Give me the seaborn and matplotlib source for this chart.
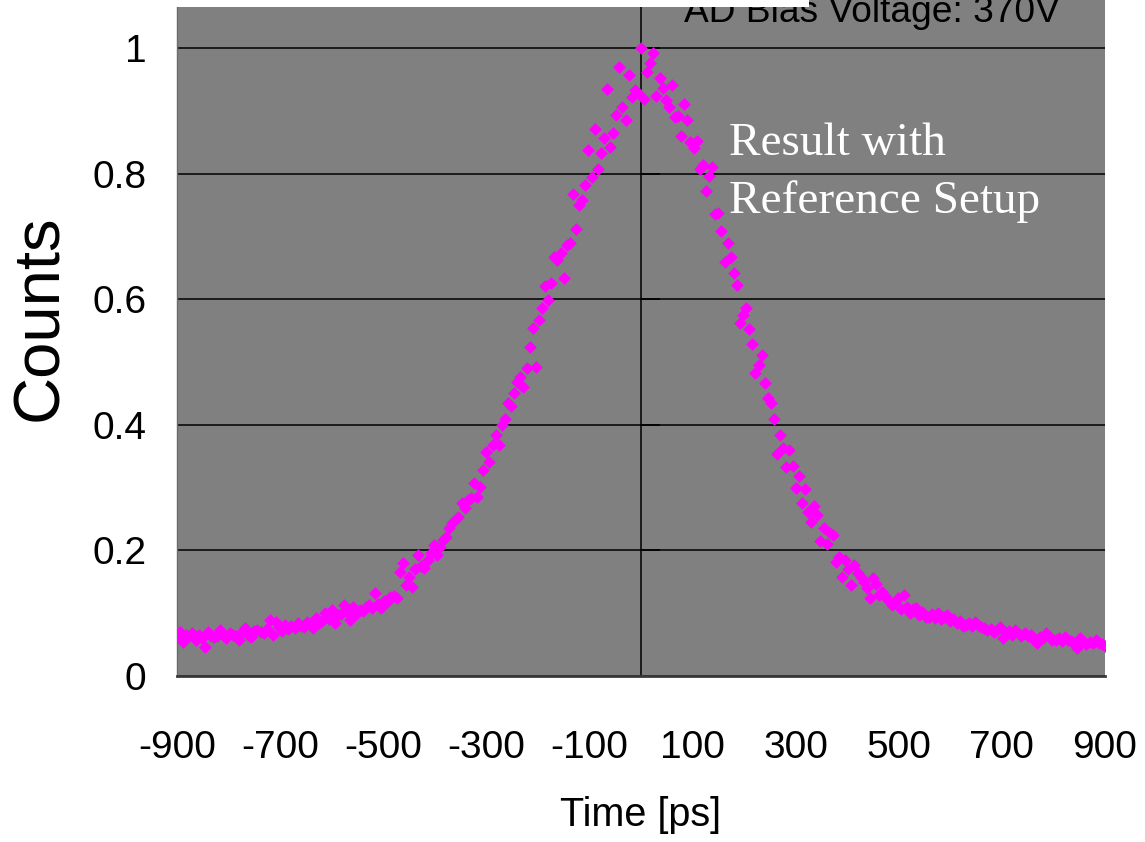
import matplotlib
matplotlib.use("Agg")
import matplotlib.pyplot as plt
from matplotlib.patches import Rectangle
import seaborn as sns
import pandas as pd

sns.set_style("white")
plt.rcParams['font.family'] = ['Liberation Sans', 'DejaVu Sans']
plt.rcParams['text.color'] = 'black'
plt.rcParams['axes.labelcolor'] = 'black'
plt.rcParams['xtick.color'] = 'black'
plt.rcParams['ytick.color'] = 'black'

# ---- data: time bins (ps) and normalised counts ----
time_ps = list(range(-900, 901, 6))
counts = [
    0.060, 0.070, 0.054, 0.065, 0.063, 0.068, 0.058, 0.066, 0.061, 0.046,
    0.070, 0.064, 0.062, 0.064, 0.073, 0.066, 0.060, 0.069, 0.065, 0.063,
    0.057, 0.070, 0.076, 0.066, 0.062, 0.071, 0.074, 0.070, 0.068, 0.075,
    0.089, 0.065, 0.086, 0.078, 0.072, 0.081, 0.075, 0.079, 0.076, 0.084,
    0.080, 0.078, 0.086, 0.082, 0.076, 0.092, 0.085, 0.088, 0.100, 0.091,
    0.105, 0.084, 0.097, 0.099, 0.113, 0.102, 0.089, 0.110, 0.098, 0.105,
    0.104, 0.110, 0.113, 0.108, 0.132, 0.115, 0.108, 0.120, 0.118, 0.126,
    0.128, 0.124, 0.166, 0.180, 0.145, 0.158, 0.142, 0.170, 0.193, 0.175,
    0.172, 0.185, 0.196, 0.209, 0.193, 0.205, 0.217, 0.222, 0.235, 0.244,
    0.248, 0.253, 0.275, 0.268, 0.280, 0.283, 0.307, 0.285, 0.301, 0.328,
    0.357, 0.341, 0.368, 0.384, 0.368, 0.400, 0.410, 0.435, 0.430, 0.450,
    0.468, 0.476, 0.460, 0.490, 0.524, 0.554, 0.492, 0.567, 0.586, 0.621,
    0.599, 0.626, 0.667, 0.662, 0.673, 0.634, 0.686, 0.690, 0.768, 0.712,
    0.750, 0.758, 0.782, 0.838, 0.795, 0.871, 0.807, 0.833, 0.857, 0.935,
    0.842, 0.865, 0.893, 0.970, 0.906, 0.885, 0.957, 0.922, 0.933, 0.928,
    1.000, 0.919, 0.962, 0.976, 0.992, 0.924, 0.952, 0.936, 0.917, 0.906,
    0.941, 0.890, 0.892, 0.860, 0.911, 0.885, 0.850, 0.841, 0.852, 0.807,
    0.814, 0.772, 0.796, 0.810, 0.736, 0.737, 0.709, 0.660, 0.690, 0.667,
    0.642, 0.623, 0.562, 0.575, 0.586, 0.553, 0.529, 0.482, 0.495, 0.511,
    0.467, 0.443, 0.435, 0.409, 0.354, 0.384, 0.363, 0.333, 0.360, 0.334,
    0.299, 0.318, 0.275, 0.298, 0.261, 0.245, 0.271, 0.256, 0.215, 0.236,
    0.210, 0.228, 0.224, 0.182, 0.190, 0.158, 0.185, 0.170, 0.145, 0.177,
    0.164, 0.158, 0.150, 0.140, 0.124, 0.156, 0.146, 0.129, 0.134, 0.128,
    0.121, 0.113, 0.118, 0.124, 0.107, 0.129, 0.110, 0.100, 0.107, 0.108,
    0.097, 0.102, 0.094, 0.094, 0.098, 0.092, 0.100, 0.090, 0.094, 0.097,
    0.088, 0.091, 0.084, 0.087, 0.080, 0.081, 0.085, 0.079, 0.086, 0.082,
    0.078, 0.076, 0.073, 0.075, 0.070, 0.074, 0.078, 0.060, 0.068, 0.071,
    0.066, 0.073, 0.069, 0.064, 0.068, 0.063, 0.066, 0.058, 0.053, 0.062,
    0.060, 0.068, 0.063, 0.057, 0.058, 0.061, 0.055, 0.062, 0.058, 0.056,
    0.052, 0.045, 0.060, 0.056, 0.051, 0.054, 0.052, 0.057, 0.053, 0.051,
    0.048,
]
x_ticks = [-900, -700, -500, -300, -100, 100, 300, 500, 700, 900]
y_ticks = [0, 0.2, 0.4, 0.6, 0.8, 1.0]
y_tick_labels = ['0', '0.2', '0.4', '0.6', '0.8', '1']

df = pd.DataFrame({'Time [ps]': time_ps, 'Counts': counts})

W, H = 1145, 842
fig = plt.figure(figsize=(W / 100, H / 100), dpi=100)
ax_l, ax_r, ax_b, ax_t = 177, 1105, 676, 0
ax = fig.add_axes([ax_l / W, 1 - ax_b / H, (ax_r - ax_l) / W, (ax_b - ax_t) / H])
ax.set_facecolor('#808080')

sns.scatterplot(data=df, x='Time [ps]', y='Counts', marker='D', color='#FF00FF',
                s=42, linewidth=0, ax=ax, zorder=3)

ax.set_xlim(-900, 900)
ax.set_ylim(0, 676 / 628)
ax.set_xticks(x_ticks)
ax.set_xticklabels([str(v) for v in x_ticks])
ax.set_yticks(y_ticks)
ax.set_yticklabels(y_tick_labels)

ax.yaxis.grid(True, color='black', linewidth=1.1)
ax.xaxis.grid(False)
ax.set_axisbelow(True)

for s in ('top', 'right'):
    ax.spines[s].set_visible(False)
ax.spines['bottom'].set_color('#3a3a3a')
ax.spines['bottom'].set_linewidth(2)
ax.spines['left'].set_color('#6a6a6a')
ax.spines['left'].set_linewidth(1)

ax.tick_params(axis='x', direction='in', length=14, width=1.2, color='black',
               labelsize=28, pad=39, labelcolor='black')
ax.tick_params(axis='y', direction='in', length=5, width=1, color='black',
               labelsize=28, pad=22, labelcolor='black')

# central vertical axis at t = 0 with its small ticks
sec = ax.secondary_yaxis(0.5)
sec.set_yticks([0.2, 0.4, 0.6, 0.8, 1.0])
sec.tick_params(direction='out', length=14, width=1.2, color='black',
                labelleft=False, labelright=False)
for sp in sec.spines.values():
    sp.set_color('black')
    sp.set_linewidth(1.1)

ax.set_xlabel('Time [ps]', fontsize=28.5, va='center', color='black')
ax.xaxis.set_label_coords(0.5, (676 - 815) / 676)
ax.set_ylabel('Counts', fontsize=47, va='center', color='black')
ax.yaxis.set_label_coords((40 - 177) / 928, (676 - 318) / 676)

fig.text(729 / W, 1 - 155 / H, 'Result with', family=['Liberation Serif', 'DejaVu Serif'],
         fontsize=34, color='white', va='baseline', ha='left')
fig.text(729 / W, 1 - 213 / H, 'Reference Setup', family=['Liberation Serif', 'DejaVu Serif'],
         fontsize=34, color='white', va='baseline', ha='left')
fig.text(684 / W, 1 - 22 / H, 'AD Bias Voltage: 370V', fontsize=26.7,
         color='black', va='baseline', ha='left')

fig.patches.append(Rectangle((0, 1 - 7 / H), 809 / W, 7 / H, transform=fig.transFigure,
                             facecolor='white', edgecolor='none', zorder=10))

fig.savefig('out.png', dpi=100)
